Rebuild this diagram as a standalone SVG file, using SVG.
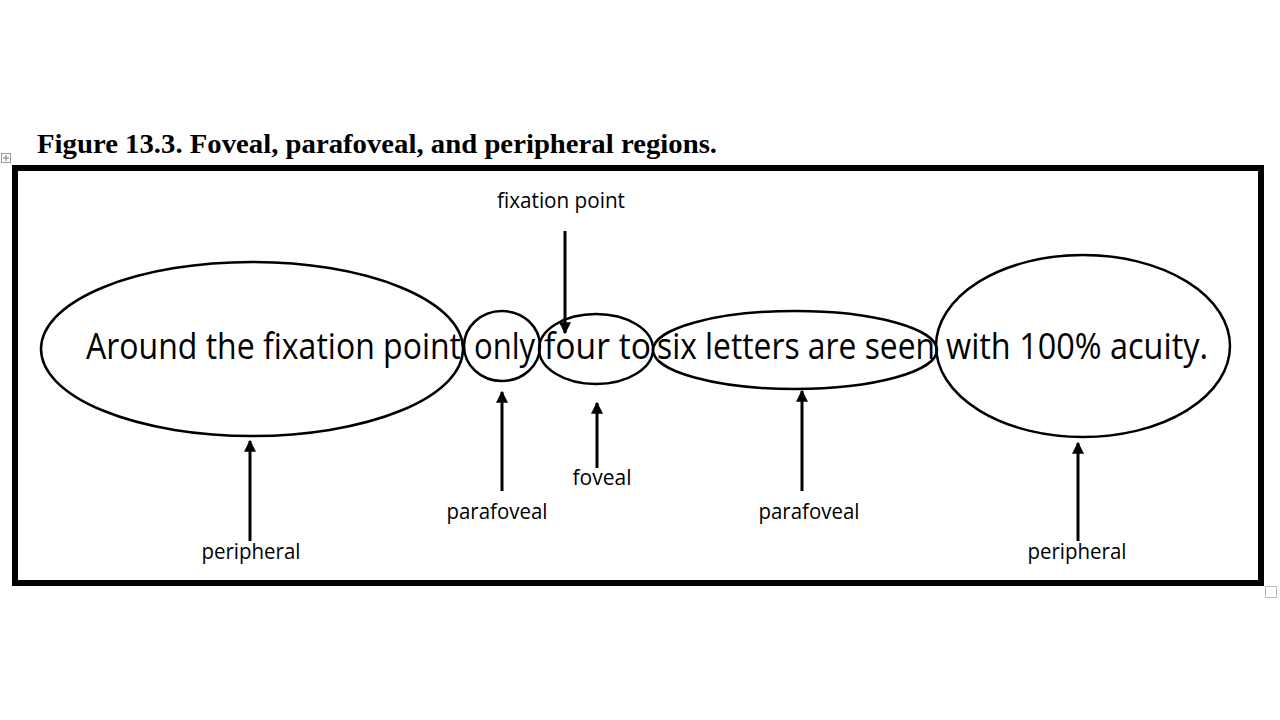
<svg xmlns="http://www.w3.org/2000/svg" width="1280" height="720" viewBox="0 0 1280 720">
<style>
.title{font-family:"Liberation Serif",serif;font-weight:bold;font-size:27px;fill:#000}
.main{font-family:"Open Sans","Liberation Sans",sans-serif;font-size:36px;fill:#000}
.lbl{font-family:"Open Sans","Liberation Sans",sans-serif;font-size:21px;fill:#000}
.ell{fill:none;stroke:#000;stroke-width:2.5}
.arr{stroke:#000;stroke-width:3;fill:none;marker-end:url(#ah)}
</style>
<defs>
<marker id="ah" markerWidth="4" markerHeight="4" refX="3.6" refY="2" orient="auto" markerUnits="strokeWidth">
<path d="M0,0 L4,2 L0,4 Z" fill="#000"/>
</marker>
</defs>
<rect width="1280" height="720" fill="#fff"/>
<text class="title" x="37" y="153" textLength="680" lengthAdjust="spacingAndGlyphs">Figure 13.3. Foveal, parafoveal, and peripheral regions.</text>
<g id="handles">
<rect x="1.5" y="153.5" width="9" height="9" fill="#fff" stroke="#999" stroke-width="1"/>
<path d="M6,155 V161 M3,158 H9" stroke="#777" stroke-width="1"/>
<rect x="1265.5" y="586.5" width="11" height="11" fill="#fff" stroke="#bbb" stroke-width="1"/>
</g>
<rect id="frame" x="15" y="168" width="1246" height="415" fill="none" stroke="#000" stroke-width="6"/>
<g id="text-line">
<text class="main" y="359"><tspan x="86" textLength="375" lengthAdjust="spacingAndGlyphs">Around the fixation point</tspan><tspan x="474" textLength="61" lengthAdjust="spacingAndGlyphs">only</tspan><tspan x="544" textLength="107" lengthAdjust="spacingAndGlyphs">four to</tspan><tspan x="657" textLength="278" lengthAdjust="spacingAndGlyphs">six letters are seen</tspan><tspan x="946" textLength="262" lengthAdjust="spacingAndGlyphs">with 100% acuity.</tspan></text>
</g>
<g id="peripheral-left"><ellipse class="ell" cx="252" cy="349" rx="211" ry="87"/></g>
<g id="parafoveal-left"><ellipse class="ell" cx="502" cy="346" rx="38" ry="35"/></g>
<g id="foveal-region"><ellipse class="ell" cx="596" cy="349" rx="57" ry="35"/></g>
<g id="parafoveal-right"><ellipse class="ell" cx="795" cy="350" rx="142" ry="39"/></g>
<g id="peripheral-right"><ellipse class="ell" cx="1083" cy="346" rx="147" ry="91"/></g>
<g id="connectors">
<line class="arr" x1="565" y1="231" x2="565" y2="333"/>
<line class="arr" x1="250" y1="541" x2="250" y2="441"/>
<line class="arr" x1="502" y1="491" x2="502" y2="392"/>
<line class="arr" x1="597" y1="468" x2="597" y2="403"/>
<line class="arr" x1="802" y1="491" x2="802" y2="391"/>
<line class="arr" x1="1078" y1="541" x2="1078" y2="443"/>
</g>
<g id="labels">
<text class="lbl" x="561" y="208" text-anchor="middle" textLength="128" lengthAdjust="spacingAndGlyphs">fixation point</text>
<text class="lbl" x="251" y="559" text-anchor="middle" textLength="99" lengthAdjust="spacingAndGlyphs">peripheral</text>
<text class="lbl" x="497" y="519" text-anchor="middle" textLength="101" lengthAdjust="spacingAndGlyphs">parafoveal</text>
<text class="lbl" x="602" y="485" text-anchor="middle" textLength="59" lengthAdjust="spacingAndGlyphs">foveal</text>
<text class="lbl" x="809" y="519" text-anchor="middle" textLength="101" lengthAdjust="spacingAndGlyphs">parafoveal</text>
<text class="lbl" x="1077" y="559" text-anchor="middle" textLength="99" lengthAdjust="spacingAndGlyphs">peripheral</text>
</g>
</svg>
